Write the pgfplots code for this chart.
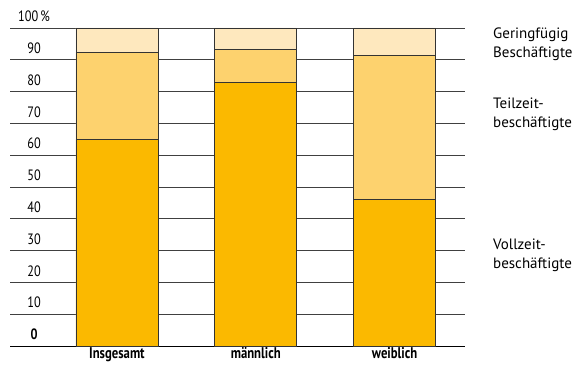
\documentclass[border=0pt]{standalone}
\usepackage{fontspec}
\setmainfont{PT Sans}
\usepackage{pgfplots}
\pgfplotsset{compat=1.18}
\definecolor{voll}{HTML}{FBB900}
\definecolor{teil}{HTML}{FDD26E}
\definecolor{gering}{HTML}{FEE8BE}
\begin{document}
\begin{tikzpicture}
\useasboundingbox (0pt,0pt) rectangle (585pt,367pt);
\begin{axis}[
  at={(10pt,21pt)}, anchor=south west,
  scale only axis, width=455pt, height=318pt,
  ybar stacked, bar width=0.59,
  xmin=-0.77, xmax=2.507, ymin=0, ymax=100,
  enlargelimits=false,
  xtick={0,1,2},
  xticklabels={\scalebox{0.82}[1]{\bfseries Insgesamt},\scalebox{0.82}[1]{\bfseries männlich},\scalebox{0.82}[1]{\bfseries weiblich}},
  xticklabel style={font=\fontsize{15.5}{17}\selectfont, yshift=2pt},
  ytick={0,10,...,100},
  yticklabels={\mbox{\scalebox{0.82}[1]{\bfseries 0}},\mbox{\scalebox{0.82}[1]{10}},\mbox{\scalebox{0.82}[1]{20}},\mbox{\scalebox{0.82}[1]{30}},\mbox{\scalebox{0.82}[1]{40}},\mbox{\scalebox{0.82}[1]{50}},\mbox{\scalebox{0.82}[1]{60}},\mbox{\scalebox{0.82}[1]{70}},\mbox{\scalebox{0.82}[1]{80}},\mbox{\scalebox{0.82}[1]{90}},\mbox{\scalebox{0.82}[1]{100\,\%}}},
  yticklabel style={anchor=south, xshift=24pt, yshift=2.5pt, font=\fontsize{15}{17}\selectfont},
  ymajorgrids, grid style={black!75, line width=0.7pt},
  axis x line*=bottom, axis y line*=left,
  y axis line style={draw=none},
  x axis line style={line width=1pt, black},
  tick style={draw=none},
]
\addplot[fill=voll, draw=black!80, line width=0.7pt] coordinates {(0,65.0) (1,82.8) (2,46.0)};
\addplot[fill=teil, draw=black!80, line width=0.7pt] coordinates {(0,27.4) (1,10.5) (2,45.4)};
\addplot[fill=gering, draw=black!80, line width=0.7pt] coordinates {(0,7.6) (1,6.7) (2,8.6)};
\end{axis}
\node[anchor=west, align=left, inner sep=0pt, font=\fontsize{15}{19}\selectfont] at (493pt,323pt) {Geringfügig\\Beschäftigte};
\node[anchor=west, align=left, inner sep=0pt, font=\fontsize{15}{19}\selectfont] at (493pt,253pt) {Teilzeit-\\beschäftigte};
\node[anchor=west, align=left, inner sep=0pt, font=\fontsize{15}{19}\selectfont] at (493pt,112pt) {Vollzeit-\\beschäftigte};
\end{tikzpicture}
\end{document}
